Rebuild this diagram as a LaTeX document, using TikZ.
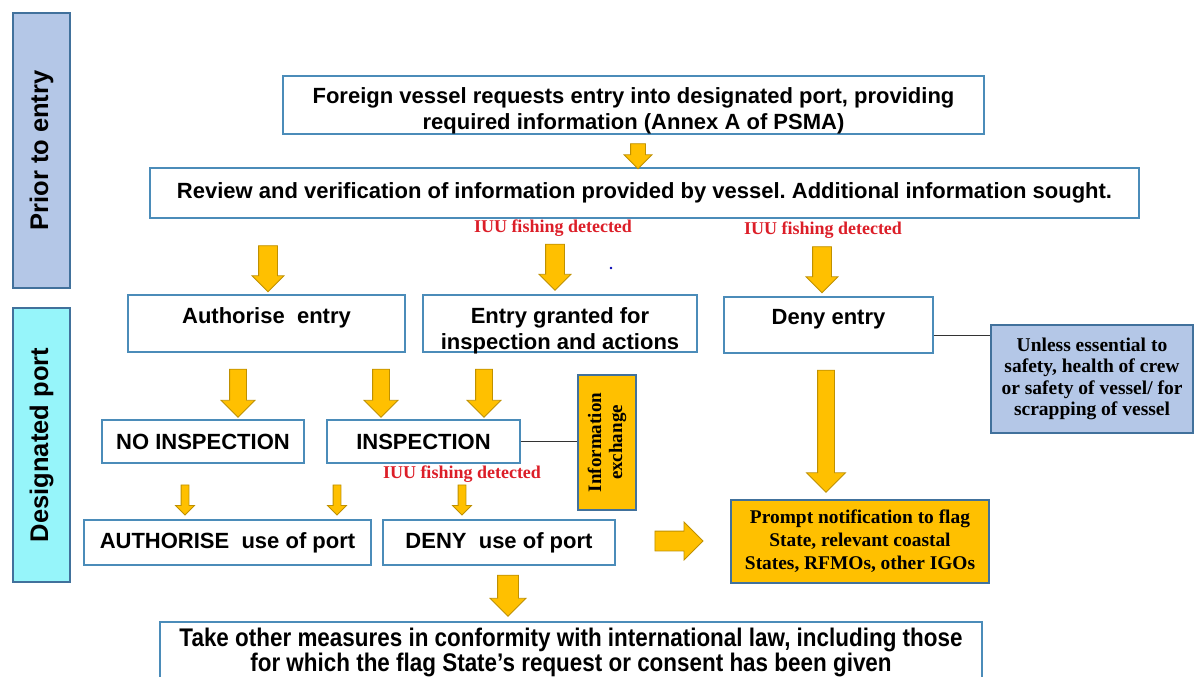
\documentclass[tikz,border=0pt]{standalone}
\usepackage{fontspec}
\setmainfont{Liberation Serif}
\setsansfont{Liberation Sans}
\newfontfamily\narrowsans[FakeStretch=0.88]{Liberation Sans}
\usetikzlibrary{shapes.arrows}
\frenchspacing

\definecolor{boxline}{RGB}{75,140,185}
\definecolor{sideline}{RGB}{65,113,156}
\definecolor{priorfill}{RGB}{180,199,231}
\definecolor{portfill}{RGB}{150,245,250}
\definecolor{gold}{RGB}{255,192,0}
\definecolor{goldline}{RGB}{191,144,0}
\definecolor{iuured}{RGB}{220,30,40}

\tikzset{
  flowbox/.style={draw=boxline, line width=1.6pt, fill=white, inner sep=0pt, align=center,
    font=\sffamily\bfseries\fontsize{22}{26}\selectfont},
  sidebox/.style={draw=sideline, line width=1.6pt, inner sep=0pt, rotate=90,
    font=\sffamily\bfseries\fontsize{25.5}{28}\selectfont},
  notebox/.style={draw=sideline, line width=1.6pt, inner sep=0pt, align=center,
    font=\rmfamily\bfseries\fontsize{19.5}{21.5}\selectfont},
  iuu/.style={text=iuured, inner sep=0pt, font=\rmfamily\bfseries\fontsize{18}{20}\selectfont},
  blockarrow/.style n args={3}{single arrow, draw=goldline, fill=gold, line width=0.8pt,
    inner xsep=0pt, inner ysep=#2/2, minimum width=0pt, minimum height=#1,
    single arrow head extend={(#3-#2)/2}},
  darrow/.style n args={3}{blockarrow={#1}{#2}{#3}, rotate=-90},
  link/.style={draw=black!80, line width=1pt},
}

\begin{document}
\begin{tikzpicture}[x=1pt,y=-1pt]
\useasboundingbox (0,0) rectangle (1194,677);
\clip (0,0) rectangle (1194,677);

% stage labels
\node[sidebox, fill=priorfill, minimum width=275, minimum height=57] (prior) at (41.5,150.5) {Prior to entry};
\node[sidebox, fill=portfill, minimum width=274, minimum height=57] (port) at (41.5,445) {Designated port};

% prior to entry
\node[flowbox, minimum width=701, text height=53, text depth=5] (request) at (633.5,105)
  {Foreign vessel requests entry into designated port, providing\\required information (Annex A of PSMA)};
\node[flowbox, minimum width=989, minimum height=50] (review) at (644.5,193)
  {Review and verification of information provided by vessel. Additional information sought.};

% entry decision
\node[flowbox, minimum width=277, text height=28, text depth=29] (authentry) at (266.5,323.5) {Authorise~ entry};
\node[flowbox, minimum width=274, text height=54, text depth=3] (granted) at (560,323.5) {Entry granted for\\inspection and actions};
\node[flowbox, minimum width=209, text height=27, text depth=29] (deny) at (828.5,325) {Deny entry};
\node[notebox, fill=priorfill, minimum width=202, minimum height=108] (unless) at (1092,379)
  {Unless essential to\\safety, health of crew\\or safety of vessel/ for\\scrapping of vessel};

% inspection
\node[flowbox, minimum width=202, minimum height=43] (noinsp) at (203,441.5) {NO INSPECTION};
\node[flowbox, minimum width=193, minimum height=43] (insp) at (423.5,441.5) {INSPECTION};
\node[notebox, fill=gold, rotate=90, minimum width=135, minimum height=58,
  font=\rmfamily\bfseries\fontsize{19}{21}\selectfont] (info) at (607,442.5) {Information\\exchange};

% use of port
\node[flowbox, minimum width=287, minimum height=45] (authuse) at (227.5,542.5) {AUTHORISE~ use of port};
\node[flowbox, minimum width=232, minimum height=45] (denyuse) at (499,542.5) {DENY~ use of port};
\node[notebox, fill=gold, minimum width=258, minimum height=83,
  font=\rmfamily\bfseries\fontsize{19.4}{23}\selectfont] (prompt) at (860,541.5)
  {Prompt notification to flag\\State, relevant coastal\\States, RFMOs, other IGOs};
\node[flowbox, minimum width=822, text height=49, text depth=20,
  font=\narrowsans\bfseries\fontsize{25.5}{23}\selectfont] (measures) at (571,656.5)
  {Take other measures in conformity with international law, including those\\for which the flag State’s request or consent has been given};

% detections
\node[iuu] (iuu1) at (553,228) {IUU fishing detected};
\node[iuu] (iuu2) at (823,230) {IUU fishing detected};
\node[iuu] (iuu3) at (462,474) {IUU fishing detected};
\fill[blue!70!black] (611,268) circle (1.3);

% block arrows
\node[darrow={25}{14}{27}] (a0) at (638,152.5) {};
\node[darrow={46}{18}{31}] (a1) at (268,264) {};
\node[darrow={46}{18}{31}] (a2) at (555,262.5) {};
\node[darrow={46}{18}{31}] (a3) at (822,265) {};
\node[darrow={48}{16}{33}] (a4) at (238,389) {};
\node[darrow={48}{16}{33}] (a5) at (381,389) {};
\node[darrow={48}{16}{33}] (a6) at (484,389) {};
\node[darrow={122}{16}{38}] (a7) at (826,427) {};
\node[darrow={30}{7}{18}] (a8) at (185,498) {};
\node[darrow={30}{7}{18}] (a9) at (337,498) {};
\node[darrow={30}{7}{18}] (a10) at (462,498) {};
\node[blockarrow={48}{19}{37}] (a11) at (674,541) {};
\node[darrow={41}{20}{35}] (a12) at (508,590.5) {};

% side links
\draw[link] (deny.east |- 0,335) -- (unless.west |- 0,335);
\draw[link] (insp.east) -- (insp.east -| info.north);
\end{tikzpicture}
\end{document}
